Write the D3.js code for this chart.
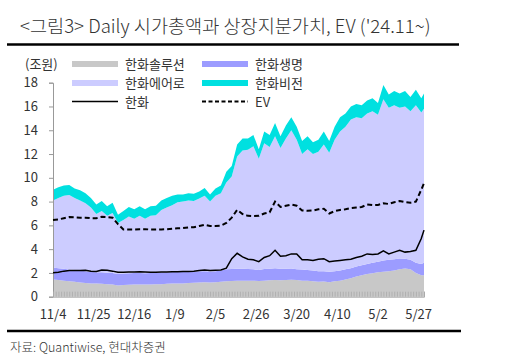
<!DOCTYPE html>
<html><head><meta charset="utf-8">
<script src="https://cdn.jsdelivr.net/npm/d3@7/dist/d3.min.js"></script>
<style>
html,body{margin:0;padding:0;background:#fff;}
text{font-family:"Noto Sans CJK KR","Noto Sans",sans-serif;fill:#333;}
</style></head>
<body><svg id="c" width="525" height="357"></svg>
<script>
// Trading days (categories)
const nov = [4,5,6,7,8,11,12,13,14,15,18,19,20,21,22,25,26,27,28,29];
const dec = [2,3,4,5,6,9,10,11,12,13,16,17,18,19,20,23,24,26,27,30];
const jan = [2,3,6,7,8,9,10,13,14,15,16,17,20,21,22,23,24,31];
const feb = [3,4,5,6,7,10,11,12,13,14,17,18,19,20,21,24,25,26,27,28];
const mar = [4,5,6,7,10,11,12,13,14,17,18,19,20,21,24,25,26,27,28,31];
const apr = [1,2,3,4,7,8,9,10,11,14,15,16,17,18,21,22,23,24,25,28,29,30];
const may = [2,7,8,9,12,13,14,15,16,19,20,21,22,23,26,27,28,29];
const tickLabels = ["11/4","11/25","12/16","1/9","2/5","2/26","3/20","4/10","5/2","5/27"];
const yTicks = [0,2,4,6,8,10,12,14,16,18];

// Series values (조원), one value every second trading day (plus last day)
const solution = [1.45,1.40,1.35,1.30,1.25,1.20,1.15,1.12,1.10,1.08,1.05,1.02,0.95,0.98,1.00,1.02,1.03,1.02,1.03,1.05,1.05,1.08,1.10,1.12,
 1.12,1.15,1.18,1.20,1.22,1.20,1.22,1.25,1.30,1.32,1.35,1.35,1.35,1.35,1.32,1.35,1.38,1.40,1.38,1.40,1.42,1.40,
 1.35,1.35,1.30,1.25,1.28,1.22,1.30,1.35,1.45,1.55,1.70,1.80,1.90,1.98,2.05,2.10,2.15,2.20,2.30,2.38,2.30,2.00,1.80,1.80];
const life = [1.00,1.00,1.00,0.98,1.00,1.00,1.00,0.98,0.95,0.97,0.97,0.98,0.95,0.97,0.98,0.98,0.97,0.96,0.97,0.97,1.00,0.97,0.98,0.98,
 0.98,0.95,0.94,0.95,0.93,0.92,0.93,0.95,1.00,1.00,1.00,1.00,0.98,0.95,0.93,0.97,0.97,1.00,0.97,0.95,0.96,0.90,
 0.93,0.90,0.90,0.90,0.87,0.88,0.85,0.85,0.85,0.85,0.85,0.85,0.85,0.87,0.90,0.95,0.95,0.95,0.92,0.82,0.80,0.85,0.95,1.05];
const aero = [5.65,5.90,6.15,6.27,6.05,5.90,5.70,5.40,4.90,5.15,4.78,5.05,4.30,4.50,4.77,4.55,4.80,4.57,4.80,4.83,5.25,5.45,5.62,5.85,
 5.90,6.00,5.93,6.10,6.35,5.88,6.35,6.50,7.30,7.78,9.45,9.95,10.02,10.35,9.35,10.58,10.25,11.10,10.15,10.95,11.62,10.90,
 9.72,10.15,9.80,10.05,10.65,10.00,11.05,11.70,12.00,12.50,12.55,12.35,12.65,12.75,12.35,13.55,12.80,12.95,12.68,12.80,12.50,13.25,12.75,12.95];
const vision = [0.90,0.90,0.85,0.85,0.80,0.85,0.85,0.80,0.80,0.85,0.80,0.85,0.70,0.75,0.80,0.80,0.80,0.80,0.80,0.80,0.80,0.80,0.80,0.65,
 0.60,0.60,0.60,0.60,0.65,0.60,0.60,0.65,0.90,0.90,1.00,1.00,0.95,0.95,0.80,1.00,1.00,1.10,1.00,1.10,1.10,1.10,
 1.10,1.10,1.00,1.00,1.10,1.00,1.10,1.20,1.10,1.10,1.10,1.10,1.10,1.10,1.00,1.20,1.10,1.20,1.20,1.30,1.20,1.30,1.20,1.30];
const hanwha = [2.02,2.05,2.15,2.20,2.20,2.20,2.22,2.15,2.12,2.25,2.22,2.15,2.05,2.05,2.08,2.08,2.10,2.08,2.05,2.05,2.07,2.08,2.10,2.10,
 2.12,2.12,2.15,2.20,2.25,2.20,2.22,2.25,2.40,3.20,3.65,3.35,3.15,3.10,2.95,3.30,3.45,3.90,3.40,3.45,3.60,3.60,
 3.10,3.10,3.05,3.15,3.20,2.95,3.00,3.05,3.10,3.15,3.30,3.40,3.60,3.55,3.60,3.85,3.60,3.75,3.90,3.75,3.80,3.90,4.90,5.60];
const ev = [6.45,6.50,6.60,6.70,6.68,6.65,6.65,6.60,6.60,6.72,6.70,6.65,6.10,5.65,5.65,5.65,5.68,5.68,5.65,5.65,5.66,5.68,5.72,5.75,
 5.78,5.83,5.85,5.95,6.05,5.95,5.95,5.98,6.20,6.65,7.30,6.95,6.80,6.78,6.80,7.00,7.10,8.00,7.55,7.65,7.75,7.65,
 7.25,7.22,7.25,7.35,7.40,7.00,7.20,7.30,7.35,7.45,7.50,7.55,7.75,7.70,7.72,7.85,7.80,7.95,8.05,7.95,7.90,8.00,9.00,9.55];

const seriesNames = ["한화솔루션","한화생명","한화에어로","한화비전"];
const colors = {"한화솔루션":"#c8c8c8","한화생명":"#9c9cff","한화에어로":"#ccccff","한화비전":"#00e0e0"};

const days = [].concat(nov.map(d=>"11/"+d), dec.map(d=>"12/"+d), jan.map(d=>"1/"+d), feb.map(d=>"2/"+d),
  mar.map(d=>"3/"+d), apr.map(d=>"4/"+d), may.map(d=>"5/"+d));
const sampleDays = days.filter((d,i)=> i%2===0 || i===days.length-1);

const rows = sampleDays.map((d,i)=>({day:d, "한화솔루션":solution[i], "한화생명":life[i], "한화에어로":aero[i], "한화비전":vision[i], hanwha:hanwha[i], ev:ev[i]}));

const svg = d3.select("#c");
svg.append("rect").attr("width",525).attr("height",357).attr("fill","#fff");

const x = d3.scalePoint().domain(days).range([53,424]);
const y = d3.scaleLinear().domain([0,18]).range([296.7,82.7]);

// title
svg.append("text").attr("x",20).attr("y",33).attr("font-size",18.6).attr("font-weight",300)
  .attr("fill","#333").text("<그림3> Daily 시가총액과 상장지분가치, EV ('24.11~)");
svg.append("line").attr("x1",7).attr("x2",459).attr("y1",44.5).attr("y2",44.5).attr("stroke","#000").attr("stroke-width",2.5);

// stacked areas
const stack = d3.stack().keys(seriesNames)(rows);
const area = d3.area().x(d=>x(d.data.day)).y0(d=>y(d[0])).y1(d=>y(d[1]));
svg.append("g").selectAll("path").data(stack).join("path")
  .attr("d",area).attr("fill",d=>colors[d.key]);

// axes
const yAxis = d3.axisLeft(y).tickValues(yTicks).tickSize(4).tickPadding(11);
const gy = svg.append("g").attr("transform","translate(53,0)").call(yAxis);
gy.select(".domain").attr("stroke","#999");
gy.selectAll(".tick line").attr("stroke","#999");
gy.selectAll("text").attr("font-size",13).attr("fill","#333").style("font-family","'Noto Sans CJK KR'");

const xAxis = d3.axisBottom(x).tickValues(days).tickSize(-5).tickFormat("");
const gx = svg.append("g").attr("transform","translate(0,296.7)").call(xAxis);
gx.select(".domain").attr("stroke","#aaa");
gx.selectAll(".tick line").attr("stroke","#aaa").attr("stroke-width",0.8);
svg.append("g").selectAll("text").data(tickLabels).join("text")
  .attr("x",d=>x(d)).attr("y",319).attr("text-anchor","middle").attr("font-size",13).attr("fill","#333").text(d=>d);

// lines
const line = key => d3.line().x(d=>x(d.day)).y(d=>y(d[key]));
svg.append("path").datum(rows).attr("d",line("hanwha")).attr("fill","none").attr("stroke","#000").attr("stroke-width",1.5);
svg.append("path").datum(rows).attr("d",line("ev")).attr("fill","none").attr("stroke","#000").attr("stroke-width",2).attr("stroke-dasharray","5,3");

// legend
svg.append("text").attr("x",25).attr("y",69).attr("font-size",13).text("(조원)");
const leg = [
  {name:"한화솔루션",type:"rect",c:colors["한화솔루션"],x:72,y:64},
  {name:"한화생명",type:"rect",c:colors["한화생명"],x:202,y:64},
  {name:"한화에어로",type:"rect",c:colors["한화에어로"],x:72,y:83},
  {name:"한화비전",type:"rect",c:colors["한화비전"],x:202,y:83},
  {name:"한화",type:"solid",c:"#000",x:72,y:101.5},
  {name:"EV",type:"dash",c:"#000",x:202,y:101.5}
];
const lg = svg.append("g").selectAll("g").data(leg).join("g");
lg.filter(d=>d.type==="rect").append("rect").attr("x",d=>d.x).attr("y",d=>d.y-3).attr("width",46).attr("height",6).attr("fill",d=>d.c);
lg.filter(d=>d.type!=="rect").append("line").attr("x1",d=>d.x).attr("x2",d=>d.x+46).attr("y1",d=>d.y).attr("y2",d=>d.y)
  .attr("stroke","#000").attr("stroke-width",d=>d.type==="dash"?2:1.5).attr("stroke-dasharray",d=>d.type==="dash"?"4,2.5":null);
lg.append("text").attr("x",d=>d.x+53).attr("y",d=>d.y+5).attr("font-size",13).text(d=>d.name);

// footer
svg.append("line").attr("x1",7).attr("x2",461).attr("y1",331).attr("y2",331).attr("stroke","#000").attr("stroke-width",2.5);
svg.append("text").attr("x",10).attr("y",352).attr("font-size",12.5).attr("font-weight",300).text("자료: Quantiwise, 현대차증권");
</script></body></html>
